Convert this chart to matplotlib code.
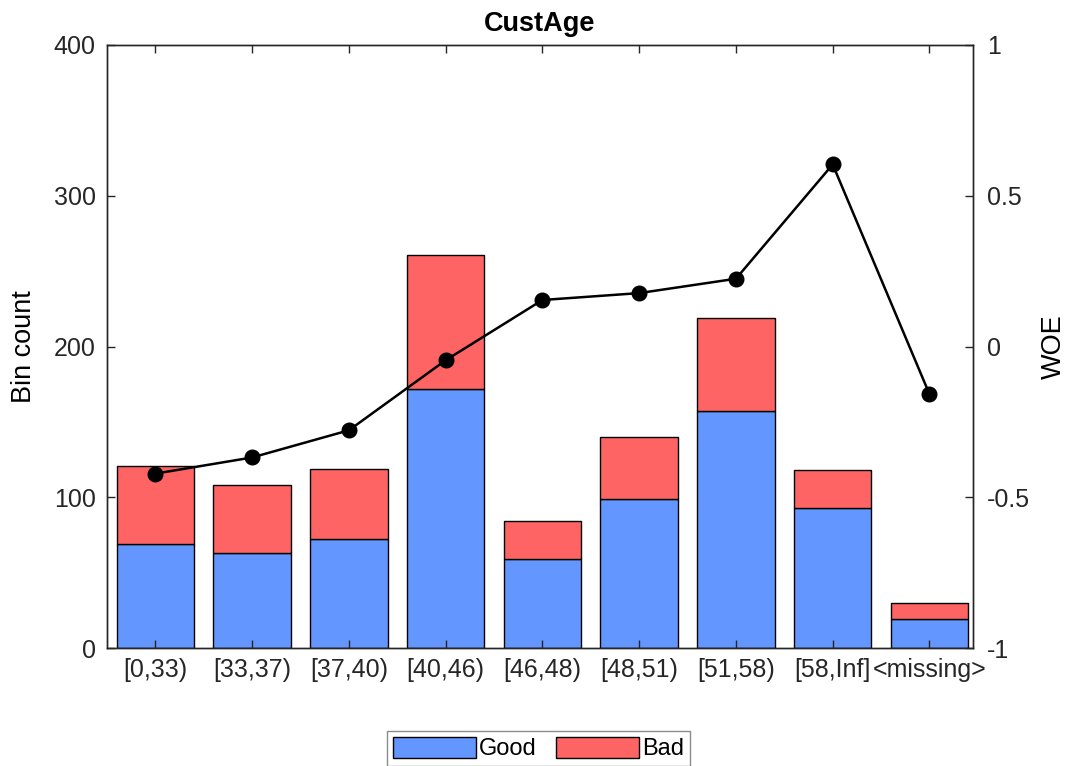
import matplotlib
matplotlib.use('Agg')
import matplotlib.pyplot as plt
import numpy as np

# bin data for CustAge
bins = ['[0,33)', '[33,37)', '[37,40)', '[40,46)', '[46,48)',
        '[48,51)', '[51,58)', '[58,Inf]', '<missing>']
good = [69, 63, 72, 172, 59, 99, 157, 93, 19]
bad = [52, 45, 47, 89, 25, 41, 62, 25, 11]
woe = [-0.4216, -0.3680, -0.2779, -0.0456, 0.1542, 0.1771, 0.2247, 0.6037, -0.1579]

plt.rcParams['font.family'] = ['Liberation Sans', 'DejaVu Sans']
dark = '#262626'

fig = plt.figure(figsize=(10.73, 7.66), dpi=100)
ax1 = fig.add_axes([0.0997, 0.154, 0.8071, 0.7873])
x = np.arange(1, len(bins) + 1)

h_good = ax1.bar(x, good, width=0.8, color='#6496ff', edgecolor='black',
                 linewidth=1.0, label='Good')
h_bad = ax1.bar(x, bad, width=0.8, bottom=good, color='#ff6464',
                edgecolor='black', linewidth=1.0, label='Bad')
ax1.set_xlim(0.5, 9.45)
ax1.set_ylim(0, 400)
ax1.set_yticks([0, 100, 200, 300, 400])
ax1.set_xticks(x)
ax1.set_xticklabels(bins)
ax1.set_ylabel('Bin count', fontsize=19.5, color='black', labelpad=12)
ax1.set_title('CustAge', fontsize=19.5, fontweight='bold', pad=10)
ax1.tick_params(axis='x', direction='in', top=True, length=6, width=1,
                labelsize=18, labelcolor=dark, color=dark, pad=7)
ax1.tick_params(axis='y', direction='in', length=6, width=1,
                labelsize=18, labelcolor=dark, color=dark, pad=8)

ax2 = ax1.twinx()
ax2.plot(x, woe, color='black', linewidth=1.8, marker='o', markersize=10.5)
ax2.set_ylim(-1, 1)
ax2.set_yticks([-1, -0.5, 0, 0.5, 1])
ax2.set_yticklabels(['-1', '-0.5', '0', '0.5', '1'])
ax2.set_ylabel('WOE', fontsize=19.5, color='black', labelpad=8)
ax2.tick_params(axis='y', direction='in', length=6, width=1,
                labelsize=18, labelcolor=dark, color=dark, pad=10)

for ax in (ax1, ax2):
    for s in ax.spines.values():
        s.set_color(dark)
        s.set_linewidth(1.0)

leg = fig.legend(handles=[h_good, h_bad], labels=['Good', 'Bad'], loc='center',
                 bbox_to_anchor=(0.502, 0.023), ncol=2, fontsize=17,
                 handlelength=3.5, handleheight=1.0, handletextpad=0.15,
                 columnspacing=0.8, borderpad=0.25, fancybox=False,
                 edgecolor='#8c8c8c', framealpha=1)
leg.get_frame().set_linewidth(1.0)

fig.savefig('out.png', dpi=100)
